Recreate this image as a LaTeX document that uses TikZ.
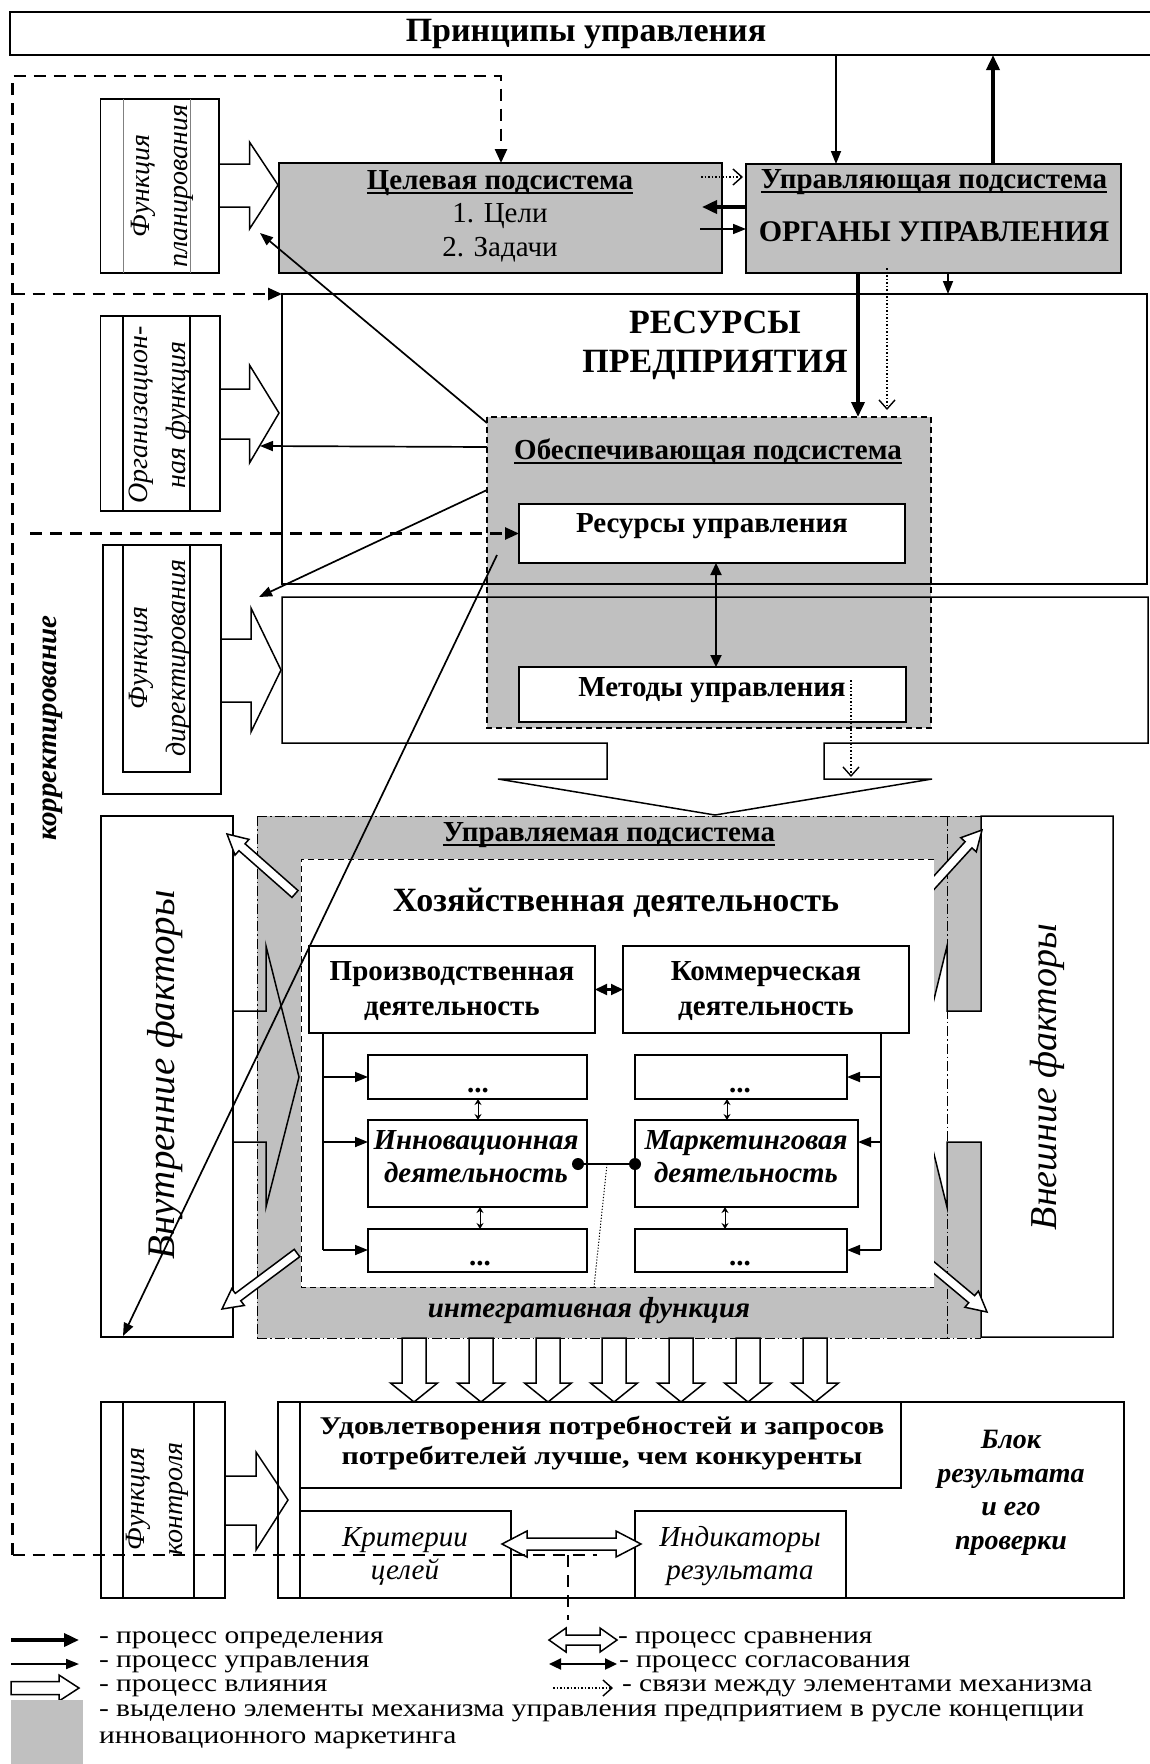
\documentclass[tikz,border=0pt]{standalone}
\usepackage{fontspec}
\setmainfont{Liberation Serif}
\newfontfamily\widefont{Liberation Serif}[FakeStretch=1.18]
\usetikzlibrary{arrows.meta,calc}
\definecolor{mgray}{RGB}{192,192,192}
\newcommand\fsz[2]{\fontsize{#1}{#2}\selectfont}
\newsavebox\ulbox
\newcommand\ulx[1]{\sbox\ulbox{#1}\rlap{\rule[-4.5pt]{\wd\ulbox}{2.4pt}}\usebox\ulbox}
\tikzset{
  box/.style={draw, line width=1.5pt, inner sep=0pt, outer sep=0pt, anchor=north west},
  gbox/.style={box, fill=mgray},
  wbox/.style={box, fill=white},
  area/.style={fill=mgray, inner sep=0pt, outer sep=0pt, anchor=north west},
  ln/.style={line width=1.5pt},
  defarr/.style={line width=3.6pt, -{Triangle[length=15pt,width=13pt]}},
  ctrlarr/.style={line width=1.7pt, -{Triangle[length=13pt,width=10pt]}},
  agrarr/.style={line width=2.2pt, {Triangle[length=12pt,width=11pt]}-{Triangle[length=12pt,width=11pt]}},
  smallarr/.style={line width=0.9pt, {Stealth[length=6pt,width=7pt]}-{Stealth[length=6pt,width=7pt]}},
  linkarr/.style={line width=1.4pt, dash pattern=on 1.5pt off 2pt, -{Straight Barb[length=9pt,width=16pt]}},
  fbdash/.style={line width=2.5pt, dash pattern=on 12pt off 8pt},
  fbarr/.style={fbdash, -{Triangle[length=14pt,width=12pt]}},
  dashdot/.style={line width=1pt, dash pattern=on 10pt off 3pt on 1.5pt off 3pt},
  t/.style={inner sep=0pt, outer sep=0pt, align=center, font=\fsz{29}{33}},
  tb/.style={t, font=\fsz{29}{33}\bfseries},
  tbi/.style={t, font=\fsz{29}{33}\bfseries\itshape},
  ti/.style={t, font=\fsz{29}{33}\itshape},
  tfun/.style={t, rotate=90, font=\fsz{28}{38}\itshape},
  tleg/.style={inner sep=0pt, outer sep=0pt, anchor=west, font=\widefont\fsz{25}{28}},
}
\newcommand\hollowarr[6]{%
  \coordinate (#1c) at ($(#3)!#6!(#2)$);
  \draw[ln, fill=white] ($(#2)!#4!90:(#3)$) -- ($(#1c)!#4!90:(#3)$) -- ($(#1c)!#5!90:(#3)$) -- (#3)
    -- ($(#1c)!#5!-90:(#3)$) -- ($(#1c)!#4!-90:(#3)$) -- ($(#2)!#4!-90:(#3)$) -- cycle;}
\newcommand\hollowdbl[6]{%
  \coordinate (#1c) at ($(#2)!#6!(#3)$);
  \coordinate (#1d) at ($(#3)!#6!(#2)$);
  \draw[ln, fill=white] (#2) -- ($(#1c)!#5!90:(#3)$) -- ($(#1c)!#4!90:(#3)$) -- ($(#1d)!#4!90:(#3)$)
    -- ($(#1d)!#5!90:(#3)$) -- (#3) -- ($(#1d)!#5!-90:(#3)$) -- ($(#1d)!#4!-90:(#3)$)
    -- ($(#1c)!#4!-90:(#3)$) -- ($(#1c)!#5!-90:(#3)$) -- cycle;}
\begin{document}
\begin{tikzpicture}[x=1pt,y=-1pt]
\useasboundingbox (0,0) rectangle (1149,1764);

% ---------- top ----------
\node[box, minimum width=1160, minimum height=43] (princ) at (10,12) {};
\node[t, font=\fsz{34}{38}\bfseries] (princt) at (586,34) {Принципы управления};

\node[gbox, minimum width=443, minimum height=110] (tsel) at (279,163) {};
\node[tb] (tselt1) at (500,183) {\ulx{Целевая подсистема}};
\node[t] (tselt2) at (500,216) {1. Цели};
\node[t] (tselt3) at (500,250) {2. Задачи};

\node[gbox, minimum width=375, minimum height=109] (upr) at (746,164) {};
\node[tb] (uprt1) at (934,182) {\ulx{Управляющая подсистема}};
\node[tb, font=\fsz{30}{34}\bfseries] (uprt2) at (934,232) {ОРГАНЫ УПРАВЛЕНИЯ};

\coordinate (xc1) at (836,0);
\coordinate (xc2) at (993,0);
\draw[ctrlarr] (xc1 |- princ.south) -- (xc1 |- upr.north);
\draw[defarr] (xc2 |- upr.north) -- (xc2 |- princ.south);

\coordinate (ca1) at (701,177);
\coordinate (ca2) at (702,207);
\coordinate (ca3) at (700,229);
\draw[linkarr] (ca1) -- ($(ca1 -| upr.west)+(-3,0)$);
\draw[defarr] (ca2 -| upr.west) -- (ca2);
\draw[ctrlarr] (ca3) -- (ca3 -| upr.west);

% ---------- resources ----------
\node[area, minimum width=444, minimum height=311] (obes) at (487,417) {};
\node[box, minimum width=865, minimum height=290] (res) at (282,294) {};
\draw[ln] (824,743) -- (1148,743) -- (1148,597) -- (282,597) -- (282,743) -- (607,743) -- (607,779)
  -- (498,779) -- (715,815) -- (932,779) -- (824,779) -- cycle;
\draw[line width=1.1pt, dash pattern=on 6pt off 4pt] (obes.north west) rectangle (obes.south east);
\node[t, font=\fsz{34}{39}\bfseries] (rest) at (715,345) {РЕСУРСЫ\\ПРЕДПРИЯТИЯ};
\node[tb] (obest) at (708,452) {\ulx{Обеспечивающая подсистема}};
\node[wbox, minimum width=386, minimum height=59] (resu) at (519,504) {};
\node[tb] (resut) at (712,526) {Ресурсы управления};
\node[wbox, minimum width=387, minimum height=55] (meth) at (519,667) {};
\node[tb] (metht) at (712,690) {Методы управления};
\coordinate (xc3) at (716,0);
\draw[agrarr] (xc3 |- resu.south) -- (xc3 |- meth.north);
\coordinate (md1) at (851,680);
\coordinate (md2) at (851,777);
\draw[linkarr] (md1) -- (md2);

\coordinate (xc4) at (858,0);
\coordinate (xc5) at (887,268);
\coordinate (xc5b) at (887,410);
\coordinate (xc6) at (948,0);
\draw[defarr] (xc4 |- upr.south) -- (xc4 |- obes.north);
\draw[linkarr] (xc5) -- (xc5b);
\draw[ctrlarr] (xc6 |- upr.south) -- (xc6 |- res.north);

% ---------- function blocks ----------
\node[box, minimum width=118.4, minimum height=174] (fplan) at (100.6,99) {};
\draw[line width=1pt, gray] (123,99) -- (123,273) (190,99) -- (190,273);
\draw[ln] (219,164) -- (249.5,164) -- (249.5,142) -- (278,185) -- (249.5,229) -- (249.5,207) -- (219,207);
\node[tfun] (fplant) at (162,186) {Функция\\планирования};

\node[box, minimum width=119.4, minimum height=195] (forg) at (100.6,316) {};
\draw[ln] (123,316) -- (123,511) (190,316) -- (190,511);
\draw[ln] (220,389) -- (249.5,389) -- (249.5,365) -- (279,413) -- (249.5,463) -- (249.5,439) -- (220,439);
\node[tfun] (forgt) at (160,415) {Организацион-\\ная функция};

\node[box, minimum width=118, minimum height=249] (fdir) at (103,545) {};
\draw[ln] (123,545) rectangle (190,772);
\draw[ln] (221,639) -- (251,639) -- (251,608) -- (281,670) -- (251,732) -- (251,702) -- (221,702);
\node[tfun] (fdirt) at (160,658) {Функция\\директирования};

\node[box, minimum width=124, minimum height=196] (fctl) at (101,1402) {};
\draw[ln] (123,1402) -- (123,1598) (194,1402) -- (194,1598);
\draw[ln] (225,1476) -- (256,1476) -- (256,1452) -- (288,1500) -- (256,1550) -- (256,1525) -- (225,1525);
\node[tfun] (fctlt) at (157,1499) {Функция\\контроля};

% arrows from supporting subsystem to functions
\coordinate (o1) at (487,423);  \coordinate (f1) at (260,233);
\coordinate (o2) at (487,447);  \coordinate (f2) at (260,446);
\coordinate (o3) at (487,490);  \coordinate (f3) at (259,597);
\draw[ctrlarr] (o1) -- (f1);
\draw[ctrlarr] (o2) -- (f2);
\draw[ctrlarr] (o3) -- (f3);

% ---------- managed subsystem ----------
\node[area, minimum width=724, minimum height=522] (uprs) at (257,816) {};
\node[box, minimum width=132, minimum height=521] (vnutr) at (101,816) {};
\draw[ln] (233,1011) -- (266,1011) -- (266,946) -- (299,1077) -- (266,1207) -- (266,1142) -- (233,1142);
\draw[ln, fill=white] (981,816) -- (1113,816) -- (1113,1337) -- (981,1337) -- (981,1142) -- (947,1142)
  -- (947,1207) -- (915,1077) -- (947,946) -- (947,1011) -- (981,1011) -- cycle;
\coordinate (vnesh) at (1047,1077);
\draw[dashdot] (uprs.north west) -- (uprs.north east) (uprs.south west) -- (uprs.south east)
  (uprs.north west) -- (uprs.south west) (947,816) -- (947,1338);

\coordinate (h1a) at (295,894);  \coordinate (h1b) at (227,834);
\coordinate (h2a) at (297,1253); \coordinate (h2b) at (222,1309);
\coordinate (h3a) at (920,898);  \coordinate (h3b) at (982,830);
\coordinate (h4a) at (920,1256); \coordinate (h4b) at (987,1312);
\hollowarr{h1}{h1a}{h1b}{4.6pt}{10.5pt}{20pt}
\hollowarr{h2}{h2a}{h2b}{4.6pt}{10.5pt}{20pt}
\hollowarr{h3}{h3a}{h3b}{4.6pt}{10.5pt}{20pt}
\hollowarr{h4}{h4a}{h4b}{4.6pt}{10.5pt}{20pt}

\foreach \x [count=\i] in {414,481,548,614,681,748,815}{
  \coordinate (va\i) at (\x,1338);
  \coordinate (vb\i) at (\x,1402);
  \hollowarr{vh\i}{va\i}{vb\i}{12pt}{23.5pt}{19pt}
}

\node[fill=white, inner sep=0pt, outer sep=0pt, anchor=north west, minimum width=633, minimum height=428] (hoz) at (301,859) {};
\draw[line width=0.9pt, dash pattern=on 6pt off 4pt] (hoz.north east) -- (hoz.north west) -- (hoz.south west) -- (hoz.south east);

\node[tb] (uprst) at (609,835) {\ulx{Управляемая подсистема}};
\node[tb, font=\fsz{34}{38}\bfseries] (hozt) at (616,903) {Хозяйственная деятельность};
\node[tbi] (integ) at (589,1311) {интегративная функция};
\node[t, rotate=90, font=\fsz{39}{42}\itshape] (vnutrt) at (165,1075) {Внутренние факторы};
\node[t, rotate=90, font=\fsz{38}{42}\itshape] (vnesht) at (vnesh) {Внешние факторы};

\node[wbox, minimum width=286, minimum height=87] (proizv) at (309,946) {};
\node[tb, font=\fsz{29}{35}\bfseries] (proizvt) at (452,991) {Производственная\\деятельность};
\node[wbox, minimum width=286, minimum height=87] (komm) at (623,946) {};
\node[tb, font=\fsz{29}{35}\bfseries] (kommt) at (766,991) {Коммерческая\\деятельность};
\draw[agrarr] (proizv.east) -- (komm.west);

\node[wbox, minimum width=219, minimum height=44] (l1) at (368,1055) {};
\node[wbox, minimum width=219, minimum height=87] (l2) at (368,1120) {};
\node[wbox, minimum width=219, minimum height=43] (l3) at (368,1229) {};
\node[wbox, minimum width=212, minimum height=44] (r1) at (635,1055) {};
\node[wbox, minimum width=223, minimum height=87] (r2) at (635,1120) {};
\node[wbox, minimum width=212, minimum height=43] (r3) at (635,1229) {};
\node[tb, anchor=base] (l1t) at (478,1092) {...};
\node[tb, anchor=base] (l3t) at (480,1265) {...};
\node[tb, anchor=base] (r1t) at (740,1092) {...};
\node[tb, anchor=base] (r3t) at (740,1265) {...};
\node[tbi] (l2t) at (476,1157) {Инновационная\\деятельность};
\node[tbi] (r2t) at (746,1157) {Маркетинговая\\деятельность};

\coordinate (lb1) at (323,1077); \coordinate (lb2) at (323,1142); \coordinate (lb3) at (323,1250);
\coordinate (rb1) at (881,1077); \coordinate (rb2) at (881,1142); \coordinate (rb3) at (881,1250);
\draw[ln] (lb1 |- proizv.south) -- (lb3);
\draw[ln] (rb1 |- komm.south) -- (rb3);
\draw[ctrlarr] (lb1) -- (lb1 -| l1.west);
\draw[ctrlarr] (lb2) -- (lb2 -| l2.west);
\draw[ctrlarr] (lb3) -- (lb3 -| l3.west);
\draw[ctrlarr] (rb1) -- (rb1 -| r1.east);
\draw[ctrlarr] (rb2) -- (rb2 -| r2.east);
\draw[ctrlarr] (rb3) -- (rb3 -| r3.east);

\coordinate (sl1) at (478,0); \coordinate (sl2) at (480,0);
\coordinate (sr1) at (727,0); \coordinate (sr2) at (725,0);
\draw[smallarr] (sl1 |- l1.south) -- (sl1 |- l2.north);
\draw[smallarr] (sl2 |- l2.south) -- (sl2 |- l3.north);
\draw[smallarr] (sr1 |- r1.south) -- (sr1 |- r2.north);
\draw[smallarr] (sr2 |- r2.south) -- (sr2 |- r3.north);

\coordinate (d1) at (578,1164); \coordinate (d2) at (635,1164);
\draw[line width=1.6pt] (d1) -- (d2);
\fill (d1) circle[radius=6pt];
\fill (d2) circle[radius=6pt];
\coordinate (dm) at (607,1164); \coordinate (dmb) at (594,1287);
\draw[line width=1pt, dash pattern=on 1.2pt off 1.8pt] (dm) -- (dmb);

% long arrow to internal factors
\coordinate (o4) at (497,555); \coordinate (f4) at (123,1336);
\draw[ctrlarr] (o4) -- (f4);

% ---------- result block ----------
\node[box, minimum width=846, minimum height=196] (resb) at (278,1402) {};
\coordinate (xr) at (300,0);
\draw[ln] (xr |- resb.north) -- (xr |- resb.south);
\node[box, minimum width=601, minimum height=86] (udov) at (300,1402) {};
\node[tb, font=\widefont\fsz{25.5}{30}\bfseries] (udovt) at (602,1443) {Удовлетворения потребностей и запросов\\потребителей лучше, чем конкуренты};
\node[box, minimum width=211, minimum height=87] (krit) at (300,1511) {};
\node[box, minimum width=211, minimum height=87] (indik) at (635,1511) {};
\node[ti] (kritt) at (405,1556) {Критерии\\целей};
\node[ti] (indikt) at (740,1556) {Индикаторы\\результата};
\coordinate (cmpA) at (502,1544); \coordinate (cmpB) at (641,1544);
\hollowdbl{cmp}{cmpA}{cmpB}{6pt}{13pt}{25pt}
\node[tbi, font=\fsz{28}{33.5}\bfseries\itshape] (blok) at (1011,1493) {Блок\\результата\\и его\\проверки};

% ---------- feedback (dashed) ----------
\coordinate (fbTL) at (12.6,76); \coordinate (fbBL) at (12.6,1555);
\coordinate (fbx) at (501,0);
\draw[fbarr] (fbBL) -- (fbTL) -- (fbTL -| fbx) -- (fbx |- tsel.north);
\coordinate (fbE) at (597,1555);
\draw[fbdash] (fbBL) -- (fbE);
\coordinate (fbs1) at (568,1555); \coordinate (fbs2) at (568,1620);
\draw[fbdash] (fbs1) -- (fbs2);
\coordinate (fbr) at (12.6,294);
\draw[fbarr] (fbr) -- (res.north west);
\coordinate (fbm) at (30,533.5);
\draw[fbarr] (fbm) -- (resu.west);
\node[tbi, rotate=90] (korr) at (53,728) {корректирование};

% ---------- legend ----------
\coordinate (lg1a) at (11,1640); \coordinate (lg1b) at (79,1640);
\coordinate (lg2a) at (11,1664); \coordinate (lg2b) at (79,1664);
\coordinate (lg3a) at (11,1688); \coordinate (lg3b) at (79,1688);
\draw[defarr] (lg1a) -- (lg1b);
\draw[ctrlarr] (lg2a) -- (lg2b);
\hollowarr{lg3}{lg3a}{lg3b}{6.5pt}{13pt}{20pt}
\node[area, minimum width=72, minimum height=64] (lgg) at (11,1700) {};
\node[tleg] (lt1) at (99,1640) {- процесс определения};
\node[tleg] (lt2) at (99,1664) {- процесс управления};
\node[tleg] (lt3) at (99,1688) {- процесс влияния};
\node[tleg] (lt4) at (99,1713) {- выделено элементы механизма управления предприятием в русле концепции};
\node[tleg] (lt5) at (99,1740) {инновационного маркетинга};
\coordinate (lg4a) at (549,1640); \coordinate (lg4b) at (617,1640);
\coordinate (lg5a) at (549,1664); \coordinate (lg5b) at (617,1664);
\coordinate (lg6a) at (553,1688); \coordinate (lg6b) at (613,1688);
\hollowdbl{lg4}{lg4a}{lg4b}{5pt}{12pt}{17pt}
\draw[agrarr] (lg5a) -- (lg5b);
\draw[linkarr] (lg6a) -- (lg6b);
\node[tleg] (lt6) at (618,1640) {- процесс сравнения};
\node[tleg] (lt7) at (619,1664) {- процесс согласования};
\node[tleg] (lt8) at (622,1688) {- связи между элементами механизма};
\end{tikzpicture}
\end{document}
